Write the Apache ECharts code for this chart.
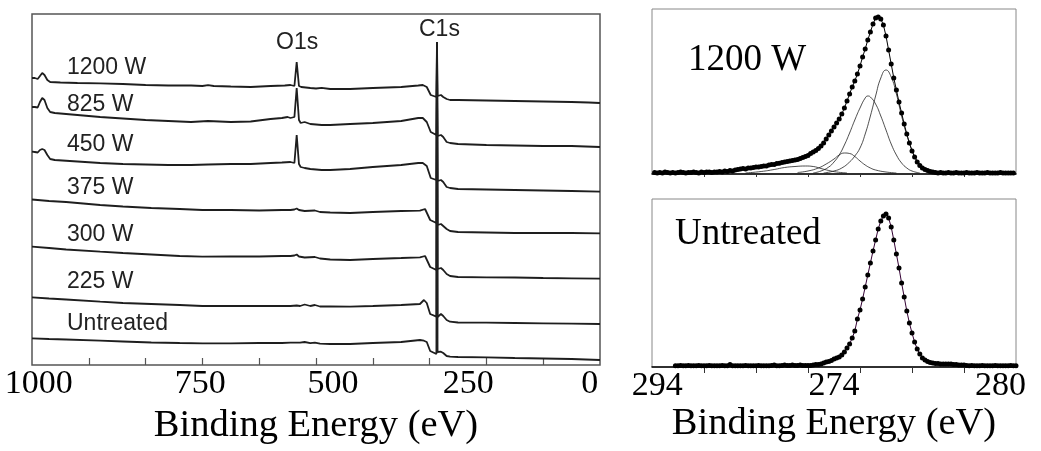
<!DOCTYPE html>
<html>
<head>
<meta charset="utf-8">
<title>XPS survey and C1s spectra</title>
<script src="https://cdn.jsdelivr.net/npm/echarts@6/dist/echarts.min.js"></script>
<style>
  html, body { margin: 0; padding: 0; background: #fff; }
  #chart { width: 1041px; height: 451px; }
</style>
</head>
<body>
<div id="chart"></div>
<script>
// survey spectra (left): [binding energy eV, intensity a.u. incl. stacking offset]
const surveyNames = ['1200 W', '825 W', '450 W', '375 W', '300 W', '225 W', 'Untreated'];
const surveyTicks = [0, 100, 200, 300, 400, 500, 600, 700, 800, 900, 1000];
const surveyTickLabels = ['1000', '750', '500', '250', '0'];
const surveyLabelAt = [988, 704, 470, 232, 18];

const s1200 = [[1000,287],[995,287],[990,286],[986,289],[982,292],[978,290],[973,285],[968,283],[950,282.5],[920,282],[880,281.7],[840,281],[800,280],[760,279.5],[720,279.5],[700,279],[690,279.8],[680,279],[650,278.5],[615,278],[580,279],[555,279.5],[545,280],[538,279],[534,303],[530,279],[526,278],[510,277],[500,276.5],[490,277.2],[475,276],[440,276],[400,277],[350,278],[320,279.5],[312,280],[305,278],[298,270],[288,268],[287,323],[286,269],[280,270],[276,268],[270,266],[264,265],[250,265],[200,264.5],[150,264],[100,263.5],[50,263],[20,262.5],[0,262]];
const s825 = [[1000,258],[995,258],[990,257.5],[986,263],[982,267],[978,265],[973,257],[968,253],[960,252],[920,250],[880,248],[840,246.5],[800,245],[760,244],[720,243],[690,244],[650,243],[615,243.5],[580,246],[560,247],[550,248],[545,247],[538,248],[534,277],[530,245],[527,242],[520,243],[510,241],[490,240],[475,240],[440,241],[400,242],[350,244],[320,247],[312,247],[305,243],[298,233],[288,230],[287,323],[286,229],[280,230],[276,228],[270,223],[264,222],[250,221],[200,220],[150,219.5],[100,219],[50,219],[0,218]];
const s450 = [[1000,213.3],[995,213],[990,212.5],[986,215],[982,216],[978,215],[973,210],[968,206],[960,205],[920,203.5],[880,202],[840,201],[800,200.5],[760,200],[720,200],[690,200.5],[650,201],[615,201],[580,202],[560,202.5],[545,203],[538,202],[534,230],[530,201],[527,198],[520,197],[510,196],[490,195],[475,195],[440,196],[400,198],[350,200],[320,202],[312,202],[305,199],[298,187],[288,185],[287,323],[286,184],[280,185],[276,183],[270,178],[264,177],[250,176],[200,175.5],[150,175],[100,174.5],[50,174],[0,173.3]];
const s375 = [[1000,165.5],[970,164],[940,163],[880,160],[840,158.5],[790,157],[740,156],[700,155],[650,155],[600,154.5],[560,155],[545,155],[538,155.5],[534,156.5],[530,155],[520,154],[502,154.5],[493,153],[475,152.5],[440,152],[400,153],[350,154],[317,154.3],[308,156],[299,145],[288,142],[287,323],[286,140],[280,141],[276,139],[270,136],[264,134],[250,133],[200,132.5],[150,132],[100,132],[50,132],[0,131.7]];
const s300 = [[1000,118.3],[970,117],[940,115.5],[880,113.3],[840,112],[790,110.5],[740,109],[700,108.3],[650,108.5],[600,108.5],[560,109],[545,109],[538,109.5],[534,110.5],[530,108.5],[520,107.5],[502,108],[493,106.5],[475,105.5],[440,105],[400,106],[350,107],[317,107.7],[308,109],[299,98],[288,95],[287,323],[286,96],[280,97],[276,95],[270,91],[264,89],[250,88],[200,87.7],[150,87.5],[100,87],[50,86.7],[0,86.3]];
const s225 = [[1000,67.7],[970,66.5],[940,65.5],[880,63.3],[840,62],[790,61],[740,60],[700,59],[650,59],[600,59],[560,59],[545,59],[534,59.5],[528,59],[520,60.5],[510,59],[502,60],[493,58.5],[475,58.5],[440,58.3],[400,59],[350,60],[317,61],[310,65],[305,62],[299,51],[288,48.3],[287,323],[286,48],[280,51],[276,49],[270,45],[264,43.3],[250,42.5],[200,42.3],[150,42],[100,41.7],[50,41.3],[0,41]];
const sUntreated = [[1000,26.7],[970,26],[940,25.5],[880,24.3],[840,23.5],[790,22.5],[740,22],[700,21.7],[650,21.7],[600,22],[560,22],[545,22.3],[528,22.3],[520,23],[510,21.8],[502,22.3],[493,21.3],[475,21],[440,21],[400,22],[350,23],[317,25],[310,24.3],[305,23],[299,14],[288,11],[287,323],[286,13],[280,13.3],[276,12],[270,9],[264,8.3],[250,8],[200,7.7],[150,7],[100,6.5],[50,6],[0,5]];
const surveyData = [s1200, s825, s450, s375, s300, s225, sUntreated];

// C1s high resolution (right), 0.1 eV steps
const hrTicks = [280, 282, 284, 286, 288, 290, 292, 294];
const hrTickLabels = ['294', '274', '280'];
const hrLabelAt = [293.8, 287.0, 280.6];
const hrStep = 0.1;
const hr1200Start = 293.9;
const hr1200 = [
  1.5,1,1.5,1,2,1.5,1,1.5,1,1.5,2,1.5,1,1.5,1.5,2,1.5,1,2,1.5,2,2,1.5,2,2,
  2.5,2,3,2.5,3.5,3,4,4.5,5,5.5,5,6,6,6.5,7,7,7.5,8,8,9,9.5,9.5,10.5,10.7,
  11.5,12,12.5,13,13.5,14,14.5,15.5,16.5,17.5,18.5,
  20.5,22,23.5,25.5,28,31,35,39,43,47,51,55,60,66,73,80,87,93,100,108,117,125,134,142,150,156,157,155,149,
  138,124,110,96,84,72,61,50,40,31,23,17,12,8.5,6,4.5,3.5,2.5,2,
  1.5,1,1.5,1,1,1.5,1,1,1.5,1,1,1,1.5,1,1,1,1.5,1,1,1,1.5,1,1,1,1,1.5,1,1,1,1,1
];
const hrUntreatedStart = 293.1;
const hrUntreated = [
  1.3,1.3,1.5,1.3,1.3,1.5,1.3,1.3,1.3,1.5,1.3,1.3,1.3,1.5,1.3,1.3,1.3,1.3,1.5,1.3,1.3,2.5,1.3,1.3,1.3,1.3,
  1.3,1.5,1.3,1.3,1.3,1.3,1.5,1.3,1.3,1.3,1.3,1.5,2,1.3,1.3,1.5,2,1.5,1.5,2,1.5,1.5,2,1.5,1.5,
  1.5,1.5,2,2.5,2.5,3,4,5,5.5,6.5,8,9,10,12,15,19,23,29,36,48,57,68,80,92,104,116,127,138,146,151,153,
  149,140,127,113,99,84,70,56,44,34,25,18,13,9,7,5.5,4.5,4,3.5,3.5,3,3,3,3,3,2.5,2.5,2,2,2,
  1.5,1.3,1.5,1.3,1.3,1.3,1.5,1.3,1.3,1.3,1.3,1.5,1.3,1.3,1.3,1.3,1.3,1.5,1.3,1.3
];
// fitted components of the 1200 W spectrum
const fitC1 = [[287.4,1],[287.0,3],[286.7,6],[286.4,12],[286.2,18],[286.0,26],[285.8,40],[285.6,58],[285.4,78],[285.2,96],[285.0,104],[284.8,97],[284.6,80],[284.4,58],[284.2,39],[284.0,24],[283.8,13],[283.6,6],[283.4,2.5],[283.2,1]];
const fitC2 = [[287.8,1],[287.5,3],[287.2,7],[287.0,12],[286.8,19],[286.6,29],[286.4,41],[286.2,54],[286.0,66],[285.8,76],[285.7,78],[285.6,77],[285.4,70],[285.2,58],[285.0,44],[284.8,30],[284.6,19],[284.4,11],[284.2,6],[284.0,3],[283.7,1]];
const fitC3 = [[288.4,1.5],[288.0,3],[287.6,6],[287.3,10],[287.0,15],[286.8,19],[286.6,21],[286.4,20.5],[286.2,17.5],[286.0,13],[285.8,9],[285.6,6],[285.4,4],[285.0,2],[284.6,1]];
const fitC4 = [[290.4,1],[289.8,2.5],[289.3,4.5],[288.9,6.5],[288.5,7.5],[288.1,8],[287.8,7.5],[287.5,5.5],[287.2,3.5],[286.9,2],[286.5,1]];

function toPairs(vals, start) {
  return vals.map((v, i) => [+(start - i * hrStep).toFixed(1), v]);
}

const serif = 'Liberation Serif';
const sans = 'Liberation Sans';

const series = surveyData.map((d, i) => ({
  name: surveyNames[i],
  type: 'line',
  xAxisIndex: 0,
  yAxisIndex: 0,
  data: d,
  showSymbol: false,
  lineStyle: { color: '#1e1e1e', width: 1.8 },
  z: 3
}));

[fitC1, fitC2, fitC3, fitC4].forEach(c => series.push({
  type: 'line', xAxisIndex: 1, yAxisIndex: 1, data: c, smooth: true,
  showSymbol: false, lineStyle: { color: '#222', width: 0.8 }
}));
series.push({
  type: 'line', xAxisIndex: 1, yAxisIndex: 1, data: toPairs(hr1200, hr1200Start),
  symbol: 'circle', symbolSize: 5, showSymbol: true,
  itemStyle: { color: '#000' }, lineStyle: { color: '#000', width: 1 }, z: 4
});
series.push({
  type: 'line', xAxisIndex: 2, yAxisIndex: 2, data: toPairs(hrUntreated, hrUntreatedStart),
  symbol: 'circle', symbolSize: 5, showSymbol: true,
  itemStyle: { color: '#000' }, lineStyle: { color: '#303', width: 1 }, z: 4
});

const hrAxis = (grid, withLabels) => ({
  type: 'value', gridIndex: grid, min: 280, max: 294, inverse: true,
  axisLine: { show: true, lineStyle: { color: '#000', width: 1.5 } },
  axisTick: { show: true, inside: false, length: withLabels ? 6 : 3, customValues: hrTicks.slice(1, -1),
    lineStyle: { color: '#333', width: 1 } },
  axisLabel: withLabels ? {
    show: true, customValues: hrLabelAt, margin: 2,
    fontFamily: serif, fontSize: 34, color: '#000',
    formatter: (v, i) => hrTickLabels[hrLabelAt.indexOf(v)] ?? hrTickLabels[i]
  } : { show: false },
  splitLine: { show: false },
  name: withLabels ? 'Binding Energy (eV)' : '',
  nameLocation: 'middle', nameGap: 36,
  nameTextStyle: { fontFamily: serif, fontSize: 38.5, color: '#000' }
});

const txt = (text, x, y, font, size) => ({
  type: 'text', x: x, y: y, z: 10,
  style: { text: text, fontFamily: font, fontSize: size, fill: font === sans ? '#222' : '#000',
    align: 'left', verticalAlign: 'middle' }
});

const chart = echarts.init(document.getElementById('chart'));
chart.setOption({
  animation: false,
  backgroundColor: '#fff',
  grid: [
    { left: 32, top: 14, width: 568, height: 351, show: true, borderColor: '#555', borderWidth: 1.5 },
    { left: 652, top: 9, width: 364, height: 165, show: true, borderColor: '#888', borderWidth: 1 },
    { left: 652, top: 199, width: 364, height: 168, show: true, borderColor: '#888', borderWidth: 1 }
  ],
  xAxis: [
    {
      type: 'value', gridIndex: 0, min: 0, max: 1000, inverse: true,
      axisLine: { show: false },
      axisTick: { show: true, inside: true, length: 7, customValues: surveyTicks.slice(1, -1),
        lineStyle: { color: '#555', width: 1.2 } },
      axisLabel: {
        show: true, customValues: surveyLabelAt, margin: 2,
        fontFamily: serif, fontSize: 34, color: '#000',
        formatter: (v, i) => surveyTickLabels[surveyLabelAt.indexOf(v)] ?? surveyTickLabels[i]
      },
      splitLine: { show: false },
      name: 'Binding Energy (eV)', nameLocation: 'middle', nameGap: 36,
      nameTextStyle: { fontFamily: serif, fontSize: 38.5, color: '#000' }
    },
    hrAxis(1, false),
    hrAxis(2, true)
  ],
  yAxis: [
    { type: 'value', gridIndex: 0, min: 0, max: 351, show: false },
    { type: 'value', gridIndex: 1, min: 0, max: 165, show: false },
    { type: 'value', gridIndex: 2, min: 0, max: 168, show: false }
  ],
  graphic: [
    txt('1200 W', 67, 68, sans, 23),
    txt('825 W', 67, 105, sans, 23),
    txt('450 W', 67, 145, sans, 23),
    txt('375 W', 67, 188, sans, 23),
    txt('300 W', 67, 235, sans, 23),
    txt('225 W', 67, 282, sans, 23),
    txt('Untreated', 67, 324, sans, 23),
    txt('O1s', 276, 43, sans, 23),
    txt('C1s', 419, 30, sans, 23),
    txt('1200 W', 688, 60, serif, 37),
    txt('Untreated', 675, 234, serif, 37)
  ],
  series: series
});
</script>
</body>
</html>
